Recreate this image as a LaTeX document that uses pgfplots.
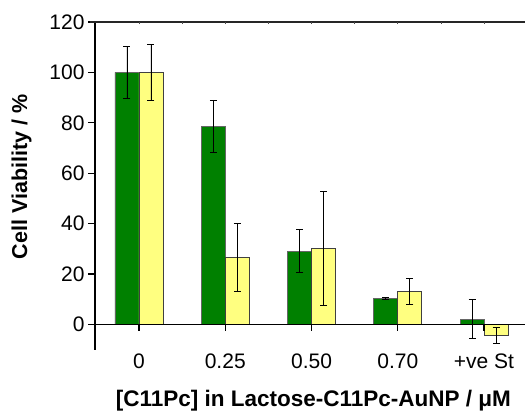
\documentclass[border=0pt]{standalone}
\usepackage{pgfplots}
\pgfplotsset{compat=1.18}
\usepackage{fontspec}
\setmainfont{Liberation Sans}
\definecolor{bargreen}{RGB}{0,128,0}
\definecolor{baryellow}{RGB}{255,255,128}
\begin{document}
\begin{tikzpicture}
\begin{axis}[
  scale only axis, width=430pt, height=327.6pt,
  xmin=-0.51, xmax=4.475, ymin=-10, ymax=120,
  clip=false,
  axis x line*=bottom, x axis line style={draw=none},
  axis y line*=left, y axis line style={line width=1.2pt, black},
  xtick={0,1,2,3,4},
  xticklabels={0,0.25,0.50,0.70,+ve St},
  x tick style={draw=none},
  ytick={0,20,40,60,80,100,120},
  y tick style={line width=1.2pt, black},
  tick align=outside, major tick length=7pt,
  /pgf/number format/assume math mode=true,
  tick label style={font=\fontsize{21}{24}\selectfont},
  xticklabel style={anchor=base, yshift=-12pt},
  ylabel={Cell Viability / \%},
  xlabel={[C11Pc] in Lactose-C11Pc-AuNP / μM},
  label style={font=\bfseries\fontsize{21.5}{25}\selectfont},
  ylabel style={at={(axis description cs:-0.158,0.527)}, anchor=base, rotate=0},
  xlabel style={at={(axis description cs:0.508,0)}, anchor=base, inner sep=0pt, yshift=-57pt, font=\bfseries\fontsize{22.5}{26}\selectfont},
  ybar=0pt, bar width=24pt,
  error bars/error bar style={black, line width=0.8pt},
  error bars/error mark options={rotate=90, mark size=3.5pt, black, line width=0.8pt},
]
\addplot[fill=bargreen, draw=black!60, line width=0.6pt,
  error bars/.cd, y dir=both, y explicit]
  coordinates {(0,100) +- (0,10.3) (1,78.7) +- (0,10.3) (2,29.1) +- (0,8.4) (3,10.3) +- (0,0.5) (4,2.1) +- (0,7.7)};
\addplot[fill=baryellow, draw=black!75, line width=0.6pt,
  error bars/.cd, y dir=both, y explicit]
  coordinates {(0,100) +- (0,11) (1,26.5) +- (0,13.5) (2,30.2) +- (0,22.7) (3,13) +- (0,5.2) (4,-4.5) +- (0,3.2)};
\draw[line width=1.2pt, black] (axis cs:-0.58,0) -- (axis cs:4.475,0);
\draw[line width=1.2pt, black!85] (axis cs:-0.57,120) -- (axis cs:4.475,120);
\pgfplotsinvokeforeach{0,1,2,3,4}{
  \draw[line width=1.2pt, black] (axis cs:#1,0) -- ([yshift=-7pt]axis cs:#1,0);
}
\pgfplotsinvokeforeach{0,0.5,1,1.5,2,2.5,3,3.5,4}{
  \draw[line width=0.6pt, black!70] (axis cs:#1,120) -- ([yshift=-2pt]axis cs:#1,120);
}
\end{axis}
\pgfresetboundingbox
\path[use as bounding box] ([shift={(-95pt,-64pt)}]current axis.south west) rectangle ([shift={(0pt,22pt)}]current axis.north east);
\end{tikzpicture}
\end{document}
